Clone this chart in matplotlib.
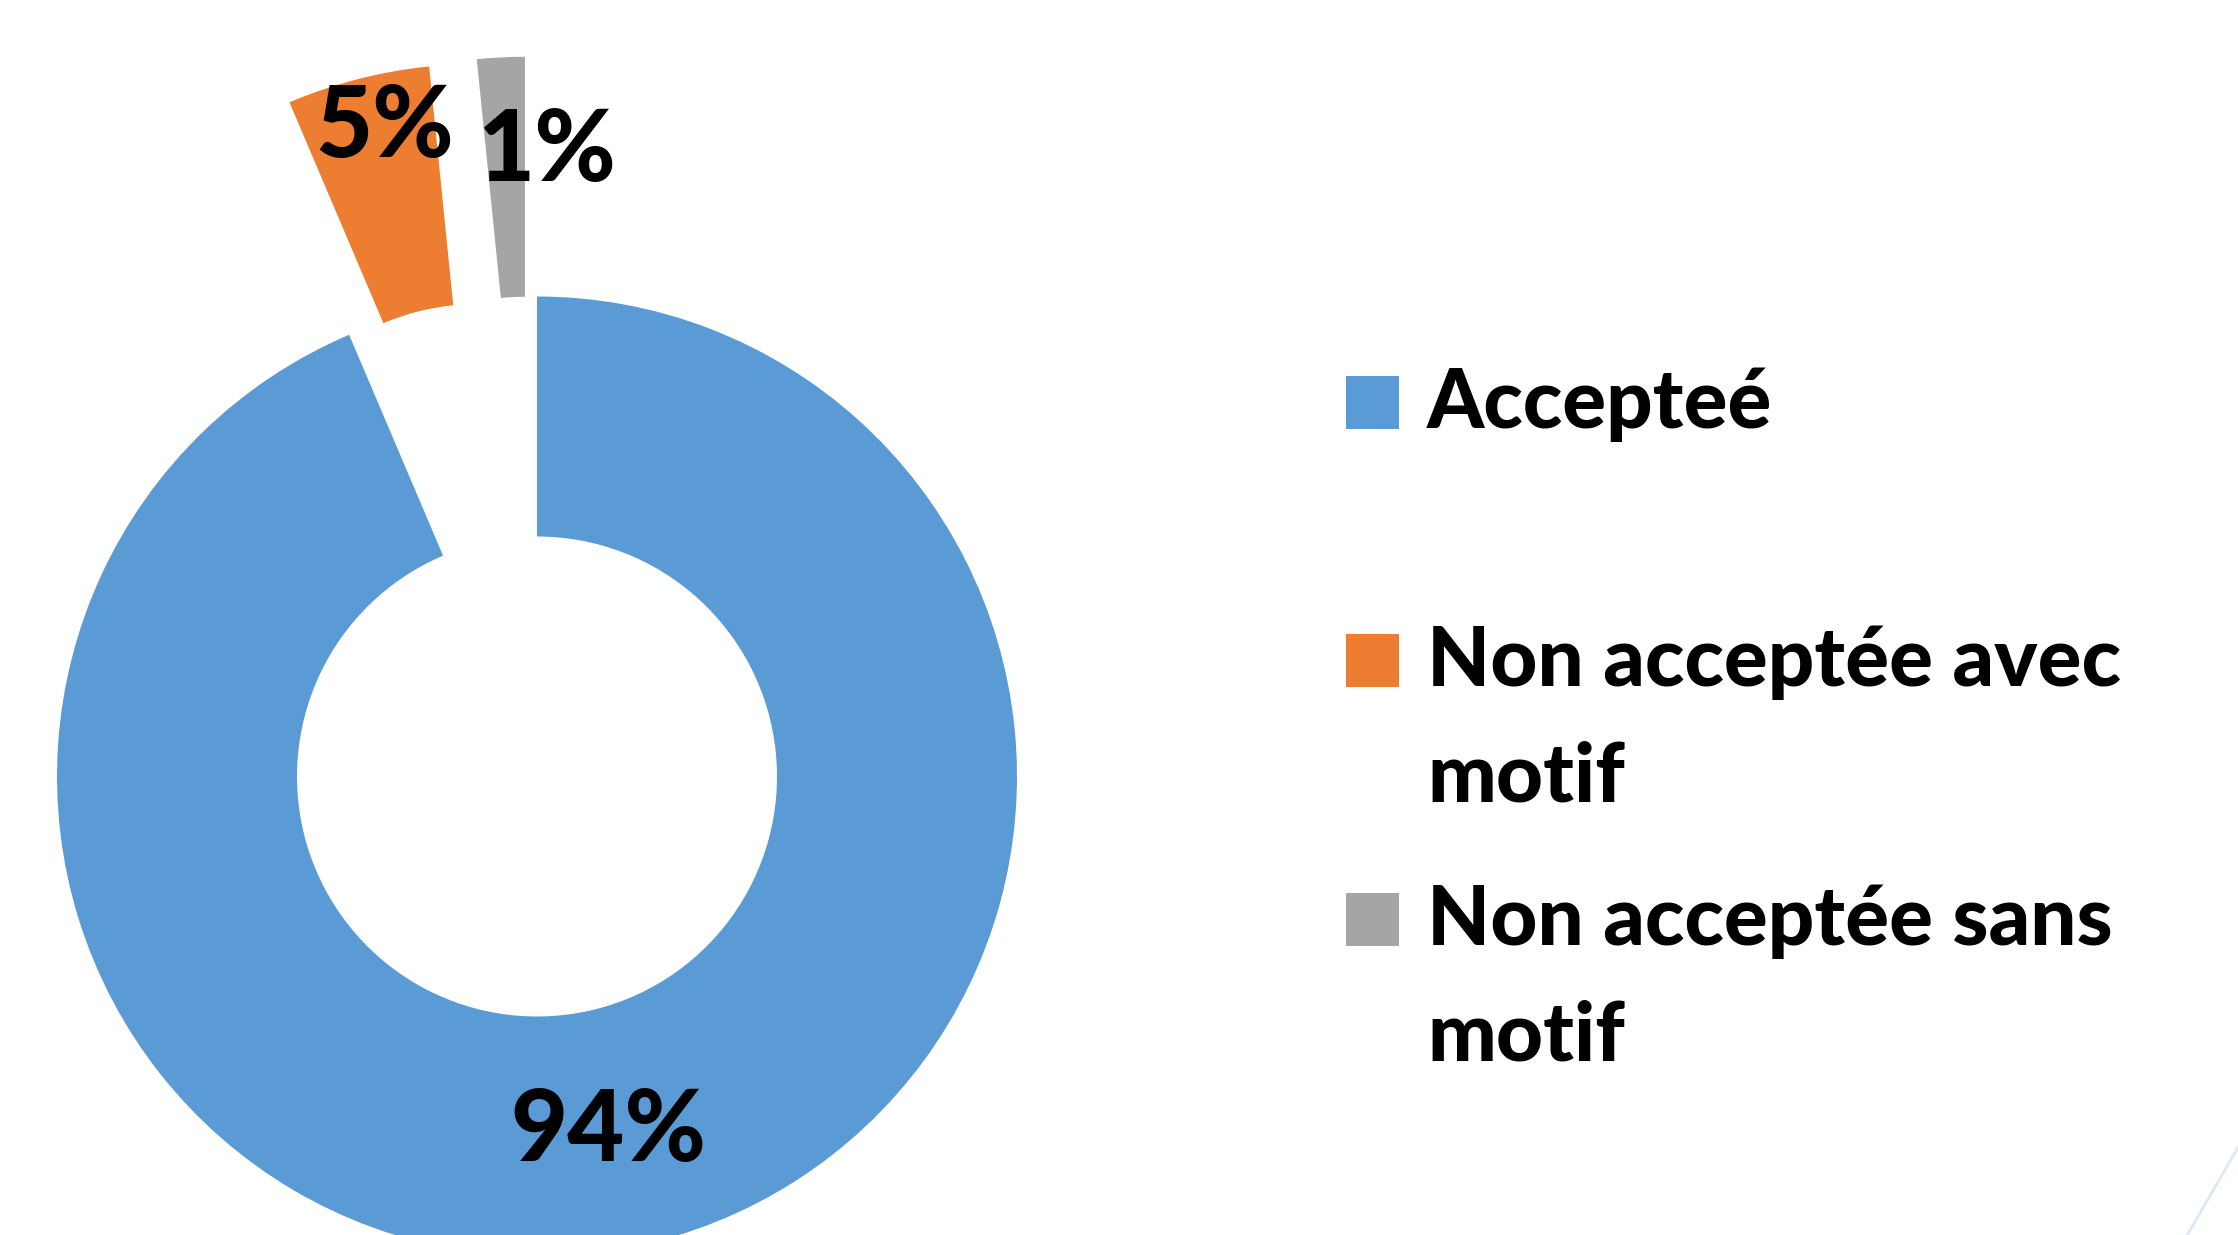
import matplotlib.pyplot as plt
import matplotlib.patches as patches

# ==== DATA ====
categories = ["Accepteé", "Non acceptée avec\nmotif", "Non acceptée sans\nmotif"]
shares = [93.6, 4.8, 1.6]          # slice sizes
pct_labels = ["94%", "5%", "1%"]   # labels as printed on the chart
colors = ["#5B9BD5", "#ED7D31", "#A5A5A5"]
explode = [0, 0.5, 0.5]

# ==== LAYOUT (pixels of the 2238x1235 canvas) ====
W, H = 2238, 1235
cx, cy, R = 537, 776.5, 480
label_px = [(608, 1132), (385, 128), (547, 153)]
FONT = "Lato"
WEIGHT = "black"

def px2d(x, y):
    return (x - cx) / R, (cy - y) / R

fig = plt.figure(figsize=(W / 100, H / 100), dpi=100)
ax = fig.add_axes([0, 0, 1, 1])

ax.pie(shares, colors=colors, explode=explode, startangle=90, counterclock=False,
       radius=1, wedgeprops=dict(width=0.5, edgecolor="none"))

x0, y1 = px2d(0, 0)
x1, y0 = px2d(W, H)
ax.set_xlim(x0, x1)
ax.set_ylim(y0, y1)
ax.set_aspect("equal", adjustable="datalim")
ax.axis("off")

for txt, (lx, ly) in zip(pct_labels, label_px):
    ax.text(*px2d(lx, ly), txt, ha="center", va="center", fontsize=71,
            fontweight=WEIGHT, family=FONT, color="black")

# legend, drawn by hand so the wrapped entries keep Excel's spacing
slot = 258.3
line_h = 115.6
sq = 53
for i, (name, col) in enumerate(zip(categories, colors)):
    yc = 402.5 + i * slot
    sx, sy = px2d(1346, yc + sq / 2)
    ax.add_patch(patches.Rectangle((sx, sy), sq / R, sq / R, facecolor=col, edgecolor="none"))
    for j, line in enumerate(name.split("\n")):
        ax.text(*px2d(1427, yc + 25.5 + j * line_h), line, ha="left", va="baseline",
                fontsize=58.8, fontweight=WEIGHT, family=FONT, color="black")

# faint slide decoration in the lower right corner
ax.plot(*zip(px2d(2240, 1144), px2d(2186, 1237)), color="#dce8f6", lw=2)

fig.savefig("out.png", dpi=100)
